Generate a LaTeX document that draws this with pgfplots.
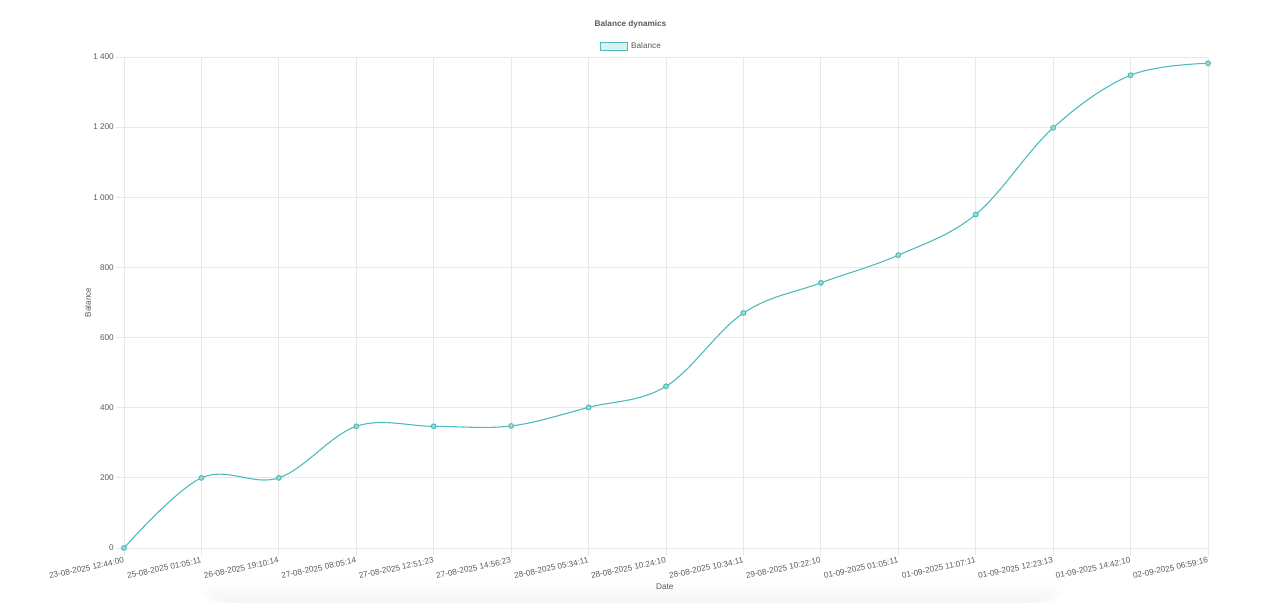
\documentclass[border=0pt]{standalone}
\usepackage{pgfplots}
\pgfplotsset{compat=1.18}
\usepackage{fontspec}
\setmainfont{Liberation Sans}
\definecolor{teal}{RGB}{78,188,188}
\definecolor{tealfill}{RGB}{219,242,242}
\definecolor{gridc}{RGB}{232,232,232}
\definecolor{txt}{RGB}{90,90,90}
\begin{document}
\begin{tikzpicture}[x=1pt,y=1pt]
\path[use as bounding box] (0,0) rectangle (1280,603);
\foreach \i/\o in {0/0.25,6/0.25,12/0.25,18/0.25}{
  \shade[top color=white, bottom color=black!6, opacity=\o, rounded corners=20pt]
    (200+\i,0) rectangle (1065-\i,30-\i*0.6);
}
\begin{axis}[
  at={(124pt,55pt)}, anchor=south west,
  scale only axis, width=1084pt, height=491pt,
  xmin=0, xmax=14, ymin=0, ymax=1400,
  xtick={0,...,14},
  xticklabels={23-08-2025 12:44:00,25-08-2025 01:05:11,26-08-2025 19:10:14,27-08-2025 08:05:14,27-08-2025 12:51:23,27-08-2025 14:56:23,28-08-2025 05:34:11,28-08-2025 10:24:10,28-08-2025 10:34:11,29-08-2025 10:22:10,01-09-2025 01:05:11,01-09-2025 11:07:11,01-09-2025 12:23:13,01-09-2025 14:42:10,02-09-2025 06:59:16},
  ytick={0,200,...,1400},
  yticklabels={0,200,400,600,800,1 000,1 200,1 400},
  xtick pos=bottom, ytick pos=left,
  grid=major,
  grid style={gridc, line width=0.8pt},
  axis line style={gridc, line width=0.8pt},
  tick style={gridc, line width=0.8pt},
  tick align=outside,
  major tick length=8pt,
  xticklabel style={font=\fontsize{8.2}{9}\selectfont, color=txt, rotate=12, anchor=north east, inner sep=1pt, yshift=0pt},
  yticklabel style={font=\fontsize{8.2}{9}\selectfont, color=txt, inner sep=1pt, xshift=-1pt},
  xlabel={Date}, ylabel={Balance},
  label style={font=\fontsize{8.2}{9}\selectfont, color=txt},
  xlabel style={at={(axis description cs:0.4989,-0.0794)}, anchor=center},
  ylabel style={at={(axis description cs:-0.0332,0.5)}, anchor=center, rotate=0},
  clip=false,
]
\addplot[teal, line width=1.1pt, smooth, tension=0.6,
  mark=*, mark size=2.4pt, mark options={fill=teal!55!white, draw=teal, line width=1pt}]
coordinates {
(0,0) (1,200) (2,200) (3,347) (4,347) (5,348) (6,401) (7,461)
(8,670) (9,756) (10,835) (11,951) (12,1198) (13,1348) (14,1382)
};
\end{axis}
\node[font=\bfseries\fontsize{8.2}{9}\selectfont, color=txt] at (630.5,579) {Balance dynamics};
\draw[teal, fill=tealfill, line width=0.8pt] (600,553) rectangle (627,561);
\node[font=\fontsize{8.2}{9}\selectfont, color=txt, anchor=west, inner sep=0pt] at (631,557) {Balance};
\end{tikzpicture}
\end{document}
